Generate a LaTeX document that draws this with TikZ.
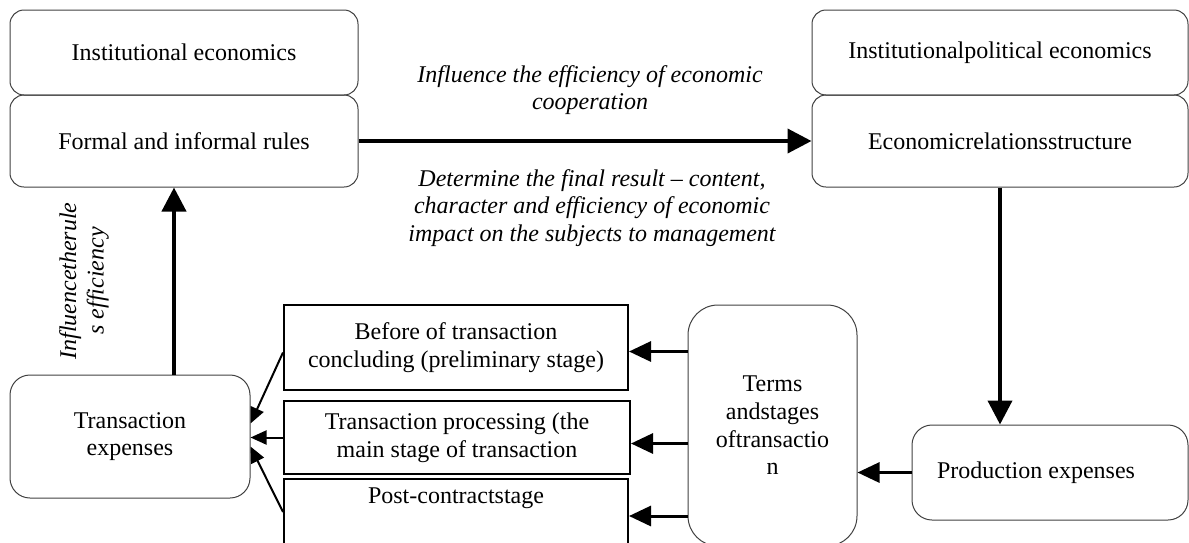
\documentclass[tikz,border=0pt]{standalone}
\usepackage{fontspec}
\setmainfont{Liberation Serif}
\usetikzlibrary{arrows.meta}

\begin{document}
\begin{tikzpicture}
    [x=0.5pt, y=-0.5pt,
    font=\fontsize{12}{13.8}\selectfont,
    rbox/.style={rectangle, rounded corners=7pt, draw=black!75, line width=0.5pt, align=center, inner sep=2pt},
    sbox/.style={rectangle, draw=black, line width=1pt, align=center, inner sep=2pt},
    note/.style={align=center, font=\fontsize{12}{13.8}\selectfont\itshape},
    bigarrow/.style={line width=2pt, -{Triangle[length=12pt, width=12pt]}},
    midarrow/.style={line width=1.5pt, -{Triangle[length=11pt, width=10pt]}},
    thinarrow/.style={line width=1pt, -{Triangle[length=8pt, width=7pt]}}
    ]
    \useasboundingbox (0,0) rectangle (1189,542);
    \clip (0,0) rectangle (1189,542);

    % top row
    \node [rbox, minimum width=174pt, minimum height=42.5pt] (inst) at (184,52.5) {Institutional economics};
    \node [rbox, minimum width=174pt, minimum height=46pt] (rules) at (184,141) {Formal and informal rules};
    \node [rbox, minimum width=188pt, minimum height=42.5pt] (ipe) at (1000,52.5) {Institutionalpolitical economics};
    \node [rbox, minimum width=188pt, minimum height=46pt] (econ) at (1000,141) {Economicrelationsstructure};

    % bottom row
    \node [rbox, rounded corners=10pt, minimum width=120pt, minimum height=61.5pt] (trans) at (130,436.5) {Transaction\\expenses};
    \node [sbox, minimum width=172pt, minimum height=42.5pt] (before) at (456,347.5) {Before of transaction\\concluding (preliminary stage)};
    \node [sbox, minimum width=173pt, minimum height=36.5pt] (proc) at (457,437.5) {Transaction processing (the\\main stage of transaction};
    \node [sbox, anchor=north, minimum width=172pt, text height=9pt, text depth=40pt, inner ysep=3pt] (post) at (456,478) {Post-contractstage};
    \node [rbox, rounded corners=15pt, minimum width=84.5pt, minimum height=120.5pt] (terms) at (772.5,425.5) {Terms\\andstages\\oftransactio\\n};
    \node [rbox, rounded corners=10pt, minimum width=138pt, minimum height=47.5pt] (prod) at (1050,472.5) {Production expenses\hspace{14pt}};

    % labels
    \node [note] (lab1) at (590,90) {Influence the efficiency of economic\\cooperation};
    \node [note] (lab2) at (592,208) {Determine the final result -- content,\\character and efficiency of economic\\impact on the subjects to management};
    \node [note, rotate=90] (lab3) at (84,281) {Influencetherule\\s efficiency};

    % connectors
    \draw [bigarrow] (rules.east) -- (econ.west);
    \draw [bigarrow] (econ.south) -- (econ.south |- prod.north);
    \draw [midarrow] (prod.west) -- (prod.west -| terms.east);
    \draw [midarrow] ([yshift=-2pt]terms.west |- before.east) -- ([yshift=-2pt]before.east);
    \draw [midarrow] ([yshift=-3pt]terms.west |- proc.east) -- ([yshift=-3pt]proc.east);
    \draw [midarrow] (terms.west |- 0,516) -- (post.east |- 0,516);
    \draw [thinarrow] ([yshift=-2.5pt]before.west) -- ([yshift=6.5pt]trans.east);
    \draw [thinarrow] (proc.west) -- (proc.west -| trans.east);
    \draw [thinarrow] (post.west |- 0,512) -- ([yshift=-5pt]trans.east);
    \draw [bigarrow] ([xshift=22pt]trans.north) -- ([xshift=22pt]trans.north |- rules.south);
\end{tikzpicture}
\end{document}
